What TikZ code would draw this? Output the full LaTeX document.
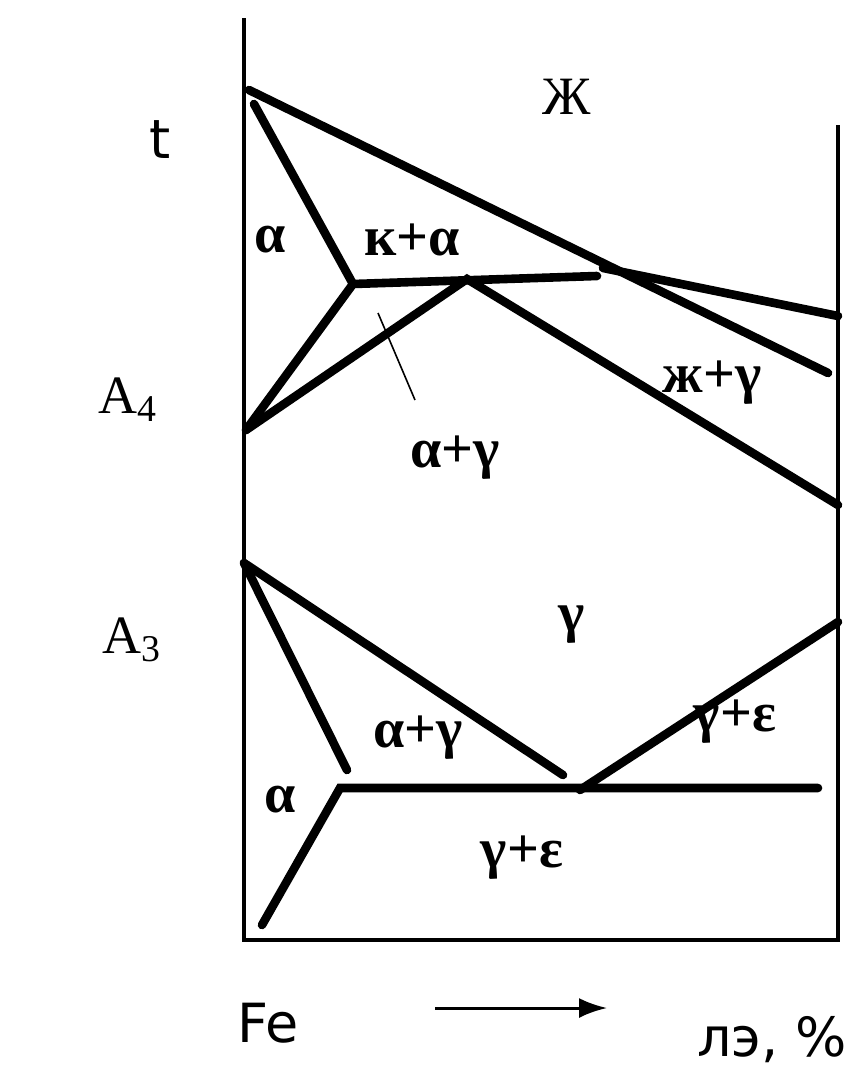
\documentclass[tikz,border=0pt]{standalone}
\usepackage{fontspec}
\setmainfont{Liberation Serif}
\setsansfont{DejaVu Sans}
\usetikzlibrary{arrows.meta,positioning}

\begin{document}
\begin{tikzpicture}[x=0.5pt, y=-0.5pt,
  axis/.style={line width=2.2pt},
  phase/.style={line width=4.3pt, line cap=round},
  lbl/.style={font=\fontsize{28}{30}\selectfont\bfseries, inner sep=0pt},
  temp/.style={font=\fontsize{27}{30}\selectfont, inner sep=0pt},
  side/.style={font=\fontsize{27}{30}\selectfont\sffamily, inner sep=0pt},
  arr/.style={-{Latex[length=14pt,width=10pt]}, line width=1.5pt}
]
\useasboundingbox (0,0) rectangle (856,1082);

% frame
\coordinate (top) at (244,18);
\coordinate (origin) at (244,940);
\coordinate (xend) at (838,940);
\coordinate (rtop) at (838,125);
\draw[axis] (top) -- (origin) -- (xend) -- (rtop);

% upper part (A4)
\coordinate (melt) at (249,90);
\coordinate (liqend) at (828,373);
\coordinate (delta) at (254,104);
\coordinate (peri) at (353,284);
\coordinate (a4) at (246,430);
\coordinate (peak) at (467,279);
\coordinate (hend) at (597,276);
\coordinate (cross) at (603,268);
\coordinate (cend) at (838,316);
\coordinate (gend) at (838,505);
\draw[phase] (melt) -- (liqend);
\draw[phase] (delta) -- (peri) -- (hend);
\draw[phase] (a4) -- (peri);
\draw[phase] (a4) -- (peak) -- (gend);
\draw[phase] (cross) -- (cend);

% lower part (A3)
\coordinate (a3) at (244,563);
\coordinate (aend) at (347,770);
\coordinate (eut) at (563,775);
\coordinate (tri) at (340,788);
\coordinate (lend) at (818,788);
\coordinate (low) at (262,925);
\coordinate (ep) at (580,790);
\coordinate (ge) at (838,622);
\draw[phase] (a3) -- (aend);
\draw[phase] (a3) -- (eut);
\draw[phase] (low) -- (tri) -- (lend);
\draw[phase] (ep) -- (ge);

% phase labels
\node[temp] (liq) at (567,97) {Ж};
\node[lbl] (alpha1) at (270,240) {α};
\node[lbl] (ka) at (412,240) {к+α};
\node[lbl] (ag1) at (455,458) {α+γ};
\node[lbl] (lg) at (712,383) {ж+γ};
\node[lbl] (gam) at (572,625) {γ};
\node[lbl] (ag2) at (418,738) {α+γ};
\node[lbl] (ge1) at (735,722) {γ+ε};
\node[lbl] (alpha2) at (280,800) {α};
\node[lbl] (ge2) at (522,858) {γ+ε};
\coordinate (lead1) at (378,313);
\coordinate (lead2) at (415,400);
\draw[line width=0.8pt] (lead1) -- (lead2);

% temperature axis
\node[side] (t) at (160,140) {t};
\node[temp] (A4) at (128,400) {A\textsubscript{4}};
\node[temp] (A3) at (132,640) {A\textsubscript{3}};

% composition axis
\node[side] (fe) at (268,1023) {Fe};
\node[side] (le) at (772,1040) {лэ, \%};
\coordinate (arrs) at (435,1008);
\coordinate (arre) at (607,1008);
\draw[arr] (arrs) -- (arre);
\end{tikzpicture}
\end{document}
